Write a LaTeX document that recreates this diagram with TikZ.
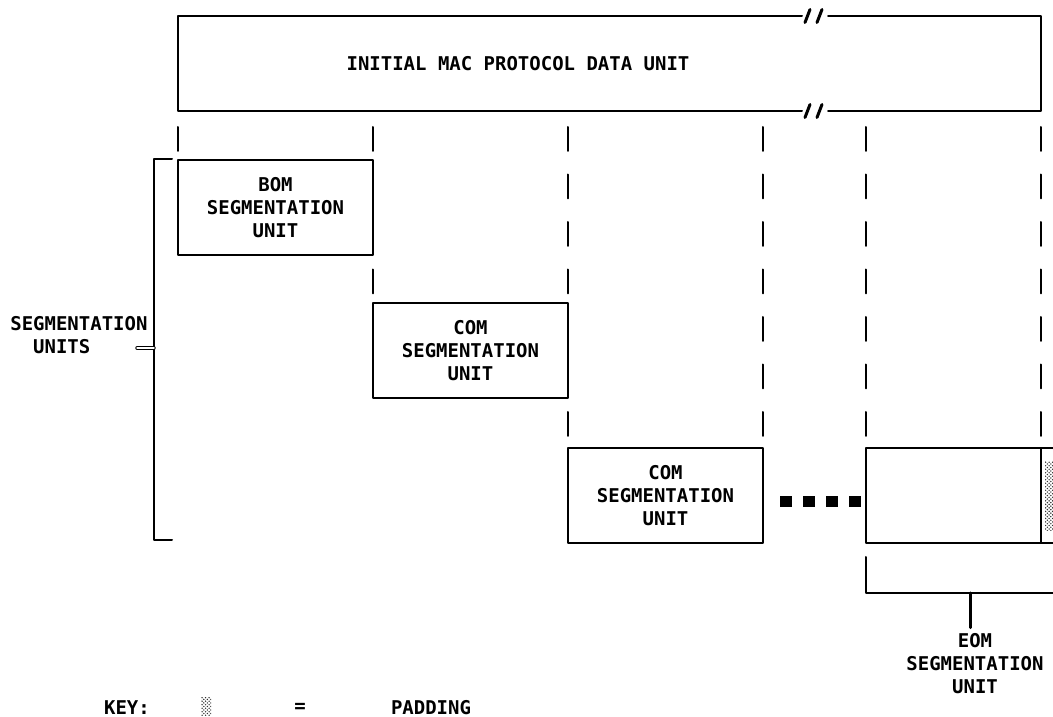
\documentclass[tikz,border=0pt]{standalone}
\usepackage{fontspec}
\setmonofont{DejaVu Sans Mono}
\usetikzlibrary{patterns}

\pgfdeclarepatternformonly{finedots}{\pgfpoint{-0.5pt}{-0.5pt}}{\pgfpoint{2.5pt}{2.5pt}}{\pgfpoint{2pt}{2pt}}{%
  \pgfpathcircle{\pgfpoint{0pt}{0pt}}{0.45pt}%
  \pgfpathcircle{\pgfpoint{1pt}{1pt}}{0.45pt}%
  \pgfusepath{fill}}

\begin{document}
\begin{tikzpicture}[line cap=round, line join=round,
  font=\ttfamily\bfseries\fontsize{10.8}{13.1}\selectfont,
  guide/.style={line width=0.04cm},
  segbox/.style={draw, line width=0.04cm, minimum width=3.9cm, minimum height=1.9cm, align=center, inner sep=0pt, outer sep=0pt},
  pad/.style={pattern=finedots, pattern color=black!80}]

\useasboundingbox (0,0) rectangle (21.06,14.34);

% initial MAC PDU with break marks
\draw[guide] (16.04,14.02) -- (3.56,14.02) -- (3.56,12.12) -- (16.04,12.12);
\draw[guide] (16.56,14.02) -- (20.82,14.02) -- (20.82,12.12) -- (16.56,12.12);
\foreach \y in {14.02,12.12} {
  \draw[line width=0.06cm] (16.10,\y-0.13) -- (16.20,\y+0.13);
  \draw[line width=0.06cm] (16.34,\y-0.13) -- (16.44,\y+0.13);
}
\node (pdu) at (10.36,13.06) {INITIAL MAC PROTOCOL DATA UNIT};

% column guides
\foreach \x/\n in {3.56/0, 7.46/3, 11.36/6, 15.26/6, 17.32/6, 20.82/6}
  \foreach \k in {0,...,\n}
    \draw[guide] (\x,11.80-0.95*\k) -- (\x,11.32-0.95*\k);

\node[segbox] (bom) at (5.51,10.19) {BOM\\SEGMENTATION\\UNIT};
\node[segbox] (com1) at (9.41,7.33) {COM\\SEGMENTATION\\UNIT};
\node[segbox] (com2) at (13.31,4.42) {COM\\SEGMENTATION\\UNIT};
\node[segbox, minimum width=3.5cm] (eom) at (19.07,4.42) {};
\node[draw, line width=0.04cm, anchor=north west, minimum width=0.6cm, minimum height=1.9cm, outer sep=0pt] (padcell) at (eom.north east) {};
\fill[pad] (20.90,5.10) rectangle (21.3,3.72);

\foreach \x [count=\i] in {15.72,16.18,16.64,17.10}
  \node[fill, minimum width=0.24cm, minimum height=0.22cm, inner sep=0pt] (sq\i) at (\x,4.30) {};

% bracket round the segmentation units
\draw[guide] (3.44,11.16) -- (3.08,11.16) -- (3.08,3.54) -- (3.44,3.54);
\node[anchor=west, align=left, inner sep=0pt] (segs) at (0.2,7.63) {SEGMENTATION\\\hphantom{SE}UNITS};
\coordinate (brk) at (3.08,7.38);
\coordinate (tick) at (2.74,7.38);
\draw[line width=0.02cm, double, double distance=0.03cm] (brk) -- (tick);

% EOM bracket
\draw[guide] (17.32,3.20) -- (17.32,2.48) -- (21.2,2.48);
\coordinate (eomtap) at (19.40,2.48);
\node[align=center] (eomlbl) at (19.5,1.06) {EOM\\SEGMENTATION\\UNIT};
\draw[line width=0.06cm] (eomtap) -- (eomtap |- eomlbl.north);

% key
\node[inner sep=0pt] (key) at (2.54,0.19) {KEY:};
\fill[pad] (4.02,0.02) rectangle (4.22,0.38);
\node[inner sep=0pt] (eq) at (6.0,0.19) {=};
\node[inner sep=0pt] (padkey) at (8.62,0.19) {PADDING};

\end{tikzpicture}
\end{document}
